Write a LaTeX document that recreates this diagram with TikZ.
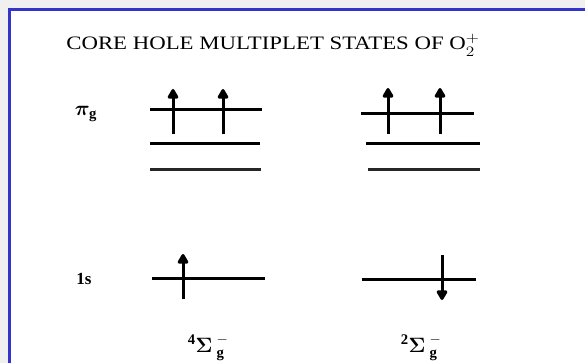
\documentclass[tikz,border=0pt]{standalone}
\usepackage{amsmath}
\usepackage{bm}
\usepackage{fontspec}
\setmainfont{Liberation Serif}
\usetikzlibrary{arrows.meta}
\definecolor{bgc}{HTML}{F0F0F0}
\definecolor{framec}{HTML}{3434CC}
\tikzset{
  level/.style={line width=3pt},
  levelthin/.style={line width=3pt, draw=black!85},
  spin/.style={line width=3pt, -{Triangle[width=12pt,length=11pt,round]}},
  lab/.style={inner sep=0pt},
}
\begin{document}
\begin{tikzpicture}[x=1pt,y=-1pt]
\useasboundingbox (0,0) rectangle (585,363);
\fill[bgc] (0,0) rectangle (585,363);
\fill[white] (9,10) rectangle (586,364);
\draw[framec, line width=3pt] (9,364) -- (9,10) -- (586,10);

% title
\node[inner sep=0pt, anchor=base] (title) at (273,50)
  {\fontsize{19}{22}\selectfont\scalebox{1.2}[1]{CORE HOLE MULTIPLET STATES OF O$_2^+$}};

% labels
\node[lab] (pig) at (86,114) {\fontsize{21}{24}\selectfont$\bm{\pi}_{\mathbf{g}}$};
\node[lab] (ones) at (84,279) {\fontsize{17}{20}\selectfont\textbf{1s}};
\node[lab] (quart) at (208,348) {\fontsize{21}{24}\selectfont ${}^{\mathbf 4}\bm{\Sigma}_{\;\mathbf g}^{\;-}$};
\node[lab] (doub) at (421,348) {\fontsize{21}{24}\selectfont ${}^{\mathbf 2}\bm{\Sigma}_{\;\mathbf g}^{\;-}$};

% left levels
\coordinate (la1) at (150,109.5); \coordinate (lb1) at (262,109.5);
\coordinate (la2) at (150,143.5); \coordinate (lb2) at (260,143.5);
\coordinate (la3) at (150,169.5); \coordinate (lb3) at (261,169.5);
\coordinate (la4) at (152,278.5); \coordinate (lb4) at (265,278.5);
\draw[level] (la1) -- (lb1);
\draw[level] (la2) -- (lb2);
\draw[levelthin] (la3) -- (lb3);
\draw[level] (la4) -- (lb4);

% right levels
\coordinate (ra1) at (361,113.5); \coordinate (rb1) at (474,113.5);
\coordinate (ra2) at (366,143.5); \coordinate (rb2) at (480,143.5);
\coordinate (ra3) at (368,169.5); \coordinate (rb3) at (480,169.5);
\coordinate (ra4) at (362,279.5); \coordinate (rb4) at (476,279.5);
\draw[level] (ra1) -- (rb1);
\draw[level] (ra2) -- (rb2);
\draw[levelthin] (ra3) -- (rb3);
\draw[level] (ra4) -- (rb4);

% spins
\coordinate (s1a) at (173,134); \coordinate (s1b) at (173,89);
\coordinate (s2a) at (223,134); \coordinate (s2b) at (223,89);
\coordinate (s3a) at (388,134); \coordinate (s3b) at (388,88);
\coordinate (s4a) at (440,134); \coordinate (s4b) at (440,88);
\coordinate (s5a) at (183,299); \coordinate (s5b) at (183,254);
\coordinate (s6a) at (442,255); \coordinate (s6b) at (442,300);
\draw[spin] (s1a) -- (s1b);
\draw[spin] (s2a) -- (s2b);
\draw[spin] (s3a) -- (s3b);
\draw[spin] (s4a) -- (s4b);
\draw[spin] (s5a) -- (s5b);
\draw[spin] (s6a) -- (s6b);
\end{tikzpicture}
\end{document}
